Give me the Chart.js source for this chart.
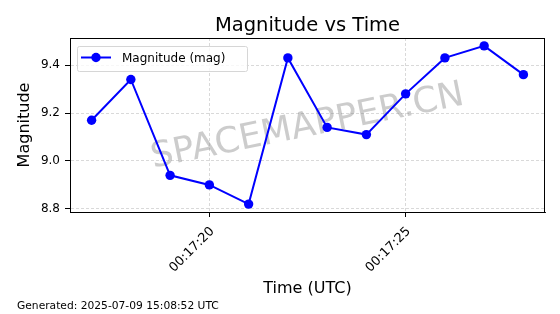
<!DOCTYPE html>
<html>
<head>
<meta charset="utf-8">
<script src="https://cdn.jsdelivr.net/npm/chart.js@4.4.0/dist/chart.umd.min.js"></script>
<style>
    html, body { margin: 0; padding: 0; background: #fff; }
    #myChart { display: block; }
</style>
</head>
<body>
<canvas id="myChart" width="560" height="314"></canvas>
<script>
// -- data --
const times      = ['00:17:17', '00:17:18', '00:17:19', '00:17:20', '00:17:21', '00:17:22',
                    '00:17:23', '00:17:24', '00:17:25', '00:17:26', '00:17:27', '00:17:28'];
const magnitudes = [9.17, 9.34, 8.94, 8.90, 8.82, 9.43, 9.14, 9.11, 9.28, 9.43, 9.48, 9.36];
const xTicks     = ['00:17:20', '00:17:25'];
const yTicks     = [8.8, 9.0, 9.2, 9.4];

const FONT = "'DejaVu Sans', sans-serif";
const BLUE = '#0000ff';

function toSec(t) {
    const [h, m, s] = t.split(':').map(Number);
    return h * 3600 + m * 60 + s;
}
function fmtSec(v) {
    const p = n => String(Math.floor(n)).padStart(2, '0');
    return `${p(v / 3600)}:${p((v % 3600) / 60)}:${p(v % 60)}`;
}

const xs = times.map(toSec);
const xPad = (xs[xs.length - 1] - xs[0]) * 0.05;
const yLo = Math.min(...magnitudes), yHi = Math.max(...magnitudes);
const yPad = (yHi - yLo) * 0.05;

// title, watermark, frame, legend box, footer
const decor = {
    id: 'decor',
    beforeDatasetsDraw(chart) {
        const { ctx, chartArea: a } = chart;
        ctx.save();
        ctx.translate((a.left + a.right) / 2, (a.top + a.bottom) / 2 + 2);
        ctx.rotate(-11.5 * Math.PI / 180);
        ctx.font = `35.5px ${FONT}`;
        ctx.fillStyle = 'rgba(128,128,128,0.4)';
        ctx.textAlign = 'center';
        ctx.textBaseline = 'middle';
        ctx.fillText('SPACEMAPPER.CN', 0, 0);
        ctx.restore();
    },
    afterDraw(chart) {
        const { ctx, chartArea: a } = chart;
        ctx.save();
        // frame
        ctx.strokeStyle = '#000';
        ctx.lineWidth = 1;
        ctx.strokeRect(a.left + 0.5, a.top + 0.5, a.right - a.left - 1, a.bottom - a.top);

        // title
        ctx.fillStyle = '#000';
        ctx.font = `19.5px ${FONT}`;
        ctx.textAlign = 'center';
        ctx.textBaseline = 'alphabetic';
        ctx.fillText('Magnitude vs Time', (a.left + a.right) / 2, 31);

        // legend
        const lx = a.left + 7, ly = a.top + 8, lw = 170, lh = 25;
        ctx.fillStyle = 'rgba(255,255,255,0.8)';
        ctx.strokeStyle = '#d6d6d6';
        ctx.beginPath();
        ctx.roundRect(lx + 0.5, ly + 0.5, lw, lh, 2);
        ctx.fill();
        ctx.stroke();
        const my = ly + 11.5;
        ctx.strokeStyle = BLUE;
        ctx.lineWidth = 2;
        ctx.beginPath();
        ctx.moveTo(lx + 4, my);
        ctx.lineTo(lx + 34, my);
        ctx.stroke();
        ctx.fillStyle = BLUE;
        ctx.beginPath();
        ctx.arc(lx + 19, my, 4.7, 0, Math.PI * 2);
        ctx.fill();
        ctx.fillStyle = '#000';
        ctx.font = `12px ${FONT}`;
        ctx.textAlign = 'left';
        ctx.fillText('Magnitude (mag)', lx + 45, my + 4.5);

        // footer
        ctx.font = `10.7px ${FONT}`;
        ctx.fillText('Generated: 2025-07-09 15:08:52 UTC', 17, 309);
        ctx.restore();
    }
};

const gridOpts = {
    color: '#cfcfcf',
    lineWidth: 0.8,
    tickColor: '#000',
    tickBorderDash: [],
    tickWidth: 1,
    tickLength: 5,
    drawOnChartArea: true
};
const borderOpts = { display: true, color: '#000', width: 1, dash: [3, 2] };

const ctx = document.getElementById('myChart').getContext('2d');
const myChart = new Chart(ctx, {
    type: 'line',
    data: {
        datasets: [{
            label: 'Magnitude (mag)',
            data: xs.map((x, i) => ({ x, y: magnitudes[i] })),
            borderColor: BLUE,
            backgroundColor: BLUE,
            borderWidth: 2,
            pointRadius: 4.7,
            pointBorderWidth: 0,
            pointBackgroundColor: BLUE,
            tension: 0,
            fill: false
        }]
    },
    options: {
        responsive: false,
        animation: false,
        devicePixelRatio: 1,
        layout: { padding: { top: 38, right: 15, bottom: 16, left: 15 } },
        plugins: {
            legend: { display: false },
            title: { display: false },
            tooltip: { enabled: false }
        },
        scales: {
            x: {
                type: 'linear',
                min: xs[0] - xPad,
                max: xs[xs.length - 1] + xPad,
                afterBuildTicks: s => { s.ticks = xTicks.map(t => ({ value: toSec(t) })); },
                afterFit: s => { s.height = 86; },
                ticks: {
                    callback: v => fmtSec(v),
                    minRotation: 45, maxRotation: 45,
                    autoSkip: false,
                    padding: 7,
                    labelOffset: 3,
                    color: '#000',
                    font: { family: FONT, size: 12.8 }
                },
                grid: gridOpts,
                border: borderOpts,
                title: {
                    display: true, text: 'Time (UTC)', color: '#000',
                    font: { family: FONT, size: 16 }, padding: 0
                }
            },
            y: {
                min: yLo - yPad,
                max: yHi + yPad,
                afterBuildTicks: s => { s.ticks = yTicks.map(v => ({ value: v })); },
                afterFit: s => { s.width = 55; },
                ticks: {
                    callback: v => v.toFixed(1),
                    padding: 5,
                    color: '#000',
                    font: { family: FONT, size: 12 }
                },
                grid: gridOpts,
                border: borderOpts,
                title: {
                    display: true, text: 'Magnitude', color: '#000',
                    font: { family: FONT, size: 16 }, padding: 0
                }
            }
        }
    },
    plugins: [decor]
});
</script>
</body>
</html>
